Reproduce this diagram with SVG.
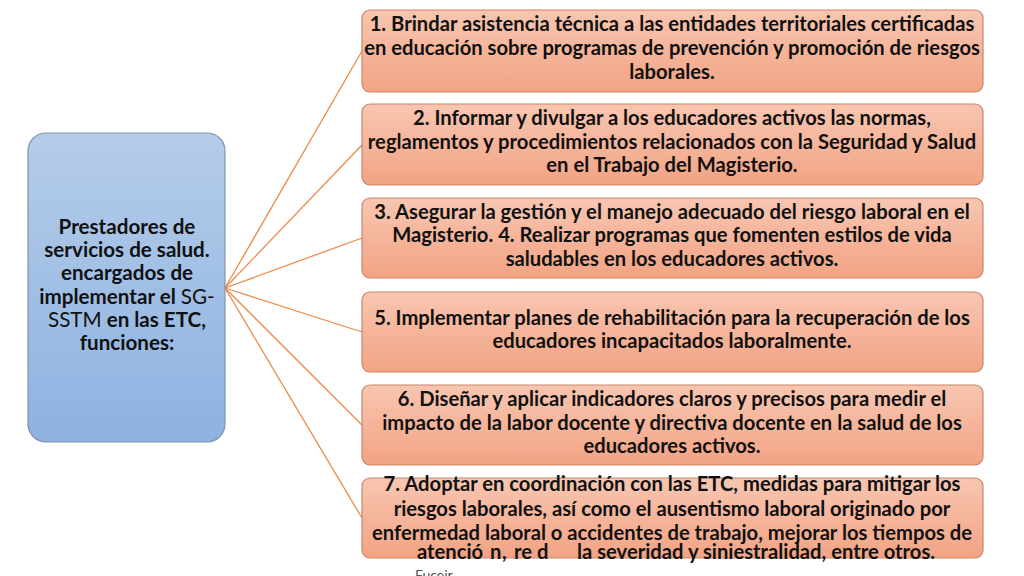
<svg xmlns="http://www.w3.org/2000/svg" width="1024" height="576" viewBox="0 0 1024 576">
<defs>
<linearGradient id="gOr" x1="0" y1="0" x2="0" y2="1">
<stop offset="0" stop-color="#F8C6B1"/>
<stop offset="1" stop-color="#F2A384"/>
</linearGradient>
<linearGradient id="gBl" x1="0" y1="0" x2="0" y2="1">
<stop offset="0" stop-color="#B5CCE9"/>
<stop offset="1" stop-color="#8DB2E1"/>
</linearGradient>
<style>
.box{fill:url(#gOr);stroke:#C9866B;stroke-width:1.2}
.main{fill:url(#gBl);stroke:#7F93AE;stroke-width:1.2}
.t{font-family:Lato,"Liberation Sans",sans-serif;font-weight:bold;font-size:20.2px;fill:#111;text-anchor:middle}
.m{font-size:20.6px}
.s{text-anchor:start}
.n{font-weight:normal}
.c{stroke:#ED8A48;stroke-width:1.3;fill:none}
</style>
</defs>
<rect width="1024" height="576" fill="#fff"/>
<g id="connectors">
<line class="c" x1="225" y1="288" x2="362" y2="51"/>
<line class="c" x1="225" y1="288" x2="362" y2="145"/>
<line class="c" x1="225" y1="288" x2="362" y2="238"/>
<line class="c" x1="225" y1="288" x2="362" y2="332"/>
<line class="c" x1="225" y1="288" x2="362" y2="425"/>
<line class="c" x1="225" y1="288" x2="362" y2="518"/>
</g>
<g id="main">
<rect class="main" x="28" y="133" width="197" height="309" rx="18"/>
<text class="t m" x="127" y="234">Prestadores de</text>
<text class="t m" x="127" y="257">servicios de salud.</text>
<text class="t m" x="127" y="280">encargados de</text>
<text class="t m" x="127" y="304">implementar el <tspan class="n">SG-</tspan></text>
<text class="t m" x="127" y="327"><tspan class="n">SSTM</tspan> en las ETC,</text>
<text class="t m" x="127" y="350">funciones:</text>
</g>
<g id="f1">
<rect class="box" x="362" y="10" width="621" height="82" rx="8"/>
<text class="t" x="672" y="31">1. Brindar asistencia técnica a las entidades territoriales certificadas</text>
<text class="t" x="672" y="55">en educación sobre programas de prevención y promoción de riesgos</text>
<text class="t" x="672" y="79">laborales.</text>
</g>
<g id="f2">
<rect class="box" x="362" y="104" width="621" height="81" rx="8"/>
<text class="t" x="672" y="125">2. Informar y divulgar a los educadores activos las normas,</text>
<text class="t" x="672" y="149">reglamentos y procedimientos relacionados con la Seguridad y Salud</text>
<text class="t" x="672" y="172">en el Trabajo del Magisterio.</text>
</g>
<g id="f3">
<rect class="box" x="362" y="198" width="621" height="80" rx="8"/>
<text class="t" x="672" y="219">3. Asegurar la gestión y el manejo adecuado del riesgo laboral en el</text>
<text class="t" x="672" y="242">Magisterio. 4. Realizar programas que fomenten estilos de vida</text>
<text class="t" x="672" y="266">saludables en los educadores activos.</text>
</g>
<g id="f4">
<rect class="box" x="362" y="292" width="621" height="80" rx="8"/>
<text class="t" x="672" y="325">5. Implementar planes de rehabilitación para la recuperación de los</text>
<text class="t" x="672" y="348">educadores incapacitados laboralmente.</text>
</g>
<g id="f5">
<rect class="box" x="362" y="385" width="621" height="80" rx="8"/>
<text class="t" x="672" y="406">6. Diseñar y aplicar indicadores claros y precisos para medir el</text>
<text class="t" x="672" y="430">impacto de la labor docente y directiva docente en la salud de los</text>
<text class="t" x="672" y="453">educadores activos.</text>
</g>
<g id="f6">
<rect class="box" x="362" y="478" width="621" height="80" rx="8"/>
<text class="t" x="672" y="491">7. Adoptar en coordinación con las ETC, medidas para mitigar los</text>
<text class="t" x="672" y="516">riesgos laborales, así como el ausentismo laboral originado por</text>
<text class="t" x="672" y="540">enfermedad laboral o accidentes de trabajo, mejorar los tiempos de</text>
<text class="t s" y="559"><tspan x="417">atenció</tspan><tspan x="490">n</tspan><tspan x="502">,</tspan><tspan x="514">re</tspan><tspan x="537">d</tspan></text>
<text class="t s" x="577" y="559">la severidad y siniestralidad, entre otros.</text>
</g>
<text x="415" y="580" font-family="Lato,'Liberation Sans',sans-serif" font-size="14" fill="#555">Fuceir</text>
</svg>
